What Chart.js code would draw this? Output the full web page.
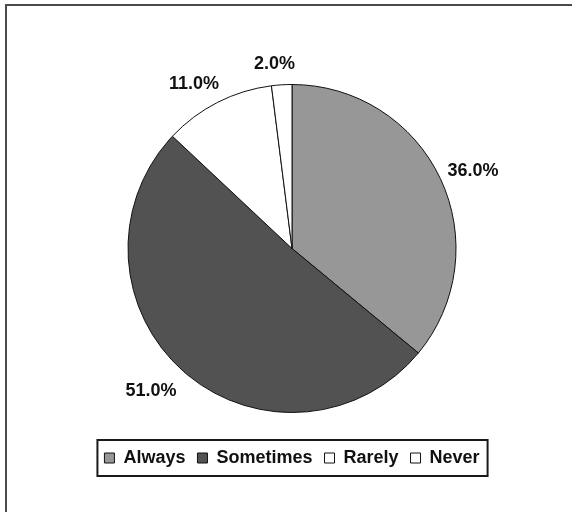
<!DOCTYPE html>
<html>
<head>
<meta charset="utf-8">
<script src="https://cdn.jsdelivr.net/npm/chart.js@4/dist/chart.umd.min.js"></script>
<style>
  html, body { margin: 0; padding: 0; background: #fff; }
  #wrap { position: relative; width: 572px; height: 512px; }
</style>
</head>
<body>
<div id="wrap"><canvas id="myChart" width="572" height="512"></canvas></div>
<script>
// answers and their share of responses (%)
var answers = ['Always', 'Sometimes', 'Rarely', 'Never'];
var shares = [36.0, 51.0, 11.0, 2.0];
var fills = ['#979797', '#525252', '#ffffff', '#ffffff'];

var labelFont = 'bold 18px "Liberation Sans", Arial, sans-serif';

// white page with the dark frame on the top and left edges
const framePlugin = {
  id: 'frame',
  beforeDraw(chart) {
    const ctx = chart.ctx;
    ctx.save();
    ctx.fillStyle = '#ffffff';
    ctx.fillRect(0, 0, chart.width, chart.height);
    ctx.fillStyle = '#4a4a4a';
    ctx.fillRect(5, 4, chart.width - 5, 2);
    ctx.fillRect(5, 4, 2, chart.height - 4);
    ctx.restore();
  }
};

// percentage text outside each slice
const sliceLabels = {
  id: 'sliceLabels',
  afterDatasetsDraw(chart) {
    const ctx = chart.ctx;
    const meta = chart.getDatasetMeta(0);
    const values = chart.data.datasets[0].data;
    ctx.save();
    ctx.font = labelFont;
    ctx.fillStyle = '#111';
    ctx.textAlign = 'center';
    ctx.textBaseline = 'middle';
    meta.data.forEach(function(arc, i) {
      const p = arc.getProps(['x', 'y', 'startAngle', 'endAngle', 'outerRadius'], true);
      const mid = (p.startAngle + p.endAngle) / 2;
      const dx = Math.cos(mid), dy = Math.sin(mid);
      const txt = values[i].toFixed(1) + '%';
      const w = ctx.measureText(txt).width;
      const r = p.outerRadius + 16;
      const x = p.x + dx * (r + w / 2) - 5;
      const y = p.y + dy * (r + 7) + 2;
      ctx.fillText(txt, x, y);
    });
    ctx.restore();
  }
};

// black box round the legend items
const legendBox = {
  id: 'legendBox',
  afterDraw(chart) {
    const boxes = chart.legend.legendHitBoxes;
    if (!boxes || !boxes.length) return;
    let l = Infinity, r = -Infinity, t = Infinity, b = -Infinity;
    boxes.forEach(function(h) {
      l = Math.min(l, h.left);
      r = Math.max(r, h.left + h.width);
      t = Math.min(t, h.top);
      b = Math.max(b, h.top + h.height);
    });
    const ctx = chart.ctx;
    ctx.save();
    ctx.strokeStyle = '#1a1a1a';
    ctx.lineWidth = 2;
    ctx.strokeRect(l - 7, t - 9, (r - l) + 15, (b - t) + 18);
    ctx.restore();
  }
};

const data = {
  labels: answers,
  datasets: [{
    data: shares,
    backgroundColor: fills,
    borderColor: '#111',
    borderWidth: 1,
    radius: 164,
    hoverOffset: 0
  }]
};

const config = {
  type: 'pie',
  data,
  options: {
    responsive: false,
    animation: false,
    layout: {
      padding: { top: 60, left: 12, right: 0, bottom: 35 }
    },
    plugins: {
      legend: {
        position: 'bottom',
        labels: {
          boxWidth: 10,
          boxHeight: 10,
          padding: 12,
          color: '#111',
          font: { family: '"Liberation Sans", Arial, sans-serif', size: 18, weight: 'bold' }
        }
      },
      tooltip: { enabled: false }
    }
  },
  plugins: [framePlugin, sliceLabels, legendBox]
};

const myChart = new Chart(document.getElementById('myChart'), config);
</script>
</body>
</html>
